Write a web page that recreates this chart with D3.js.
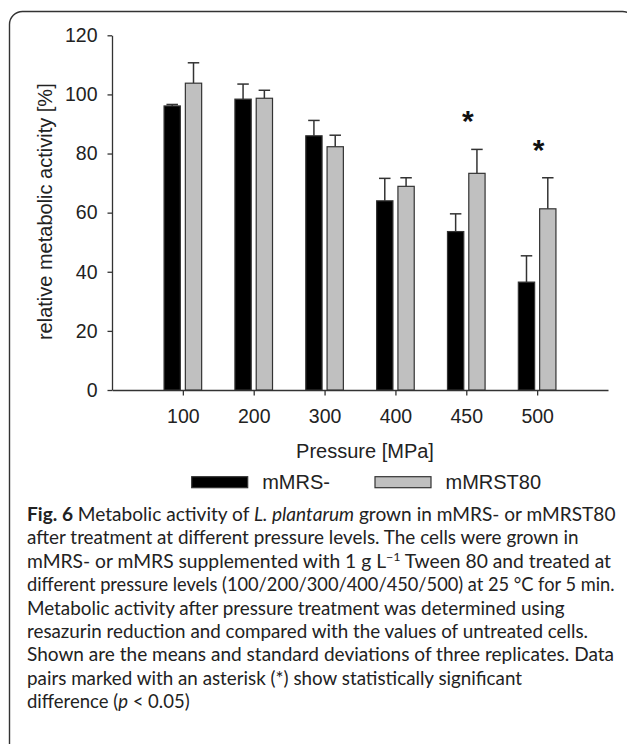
<!DOCTYPE html>
<html>
<head>
<meta charset="utf-8">
<script src="https://cdn.jsdelivr.net/npm/d3@7"></script>
<style>
  html, body { margin: 0; padding: 0; background: #fff; }
  svg { display: block; }
</style>
</head>
<body>
<script>
// ---------------- data ----------------
const categories = ["100", "200", "300", "400", "450", "500"];
const mMRSMean   = [96.1, 98.4, 86.0, 64.0, 53.6, 36.5];
const mMRSSD     = [0.5, 5.1, 5.2, 7.6, 6.0, 8.9];
const mMRST80Mean = [103.8, 98.7, 82.3, 68.9, 73.3, 61.3];
const mMRST80SD   = [6.9, 2.7, 3.9, 2.9, 8.1, 10.5];
const significant = [false, false, false, false, true, true];
const yTicks = [0, 20, 40, 60, 80, 100, 120];
const seriesNames = ["mMRS-", "mMRST80"];
const xTitle = "Pressure [MPa]";
const yTitle = "relative metabolic activity [%]";
const captionLines = [
  "**Fig. 6** Metabolic activity of _L. plantarum_ grown in mMRS- or mMRST80",
  "after treatment at different pressure levels. The cells were grown in",
  "mMRS- or mMRS supplemented with 1 g L^{−1} Tween 80 and treated at",
  "different pressure levels (100/200/300/400/450/500) at 25 °C for 5 min.",
  "Metabolic activity after pressure treatment was determined using",
  "resazurin reduction and compared with the values of untreated cells.",
  "Shown are the means and standard deviations of three replicates. Data",
  "pairs marked with an asterisk (*) show statistically significant",
  "difference (_p_ < 0.05)"
];
// right edge of each caption line (layout; null = natural width)
const captionRight = [615.5, 578.5, 611, 614.5, 564.5, 588, 614, 522, null];

// ---------------- layout ----------------
const W = 627, H = 744;
const svg = d3.select("body").append("svg").attr("width", W).attr("height", H);
const ink = "#222";
const lineCol = "#333";

// frame
svg.append("rect")
  .attr("x", 9.5).attr("y", 11.5)
  .attr("width", 626).attr("height", 760)
  .attr("rx", 13).attr("ry", 13)
  .attr("fill", "none").attr("stroke", lineCol).attr("stroke-width", 1.4);

const x = d3.scaleLinear().domain([-1, 6]).range([112, 608]);
const y = d3.scaleLinear().domain([0, 120]).range([390, 35.3]);

const font = "'Liberation Sans', Arial, sans-serif";

// y axis
const gy = svg.append("g").attr("transform", "translate(112,0)")
  .call(d3.axisLeft(y).tickValues(yTicks).tickSize(4.5).tickPadding(10).tickSizeOuter(0));
gy.select(".domain").attr("stroke", lineCol).attr("stroke-width", 1.3);
gy.selectAll(".tick line").attr("stroke", lineCol).attr("stroke-width", 1.3);
gy.selectAll(".tick text").attr("font-family", font).attr("font-size", 19.5).attr("fill", ink);

// x axis
const idx = categories.map((d, i) => i);
const gx = svg.append("g").attr("transform", "translate(0,390)")
  .call(d3.axisBottom(x).tickValues(idx).tickFormat(i => categories[i])
        .tickSize(5.5).tickPadding(13.5).tickSizeOuter(0));
gx.select(".domain").attr("stroke", lineCol).attr("stroke-width", 1.3);
gx.selectAll(".tick line").attr("stroke", lineCol).attr("stroke-width", 1.3);
gx.selectAll(".tick text").attr("font-family", font).attr("font-size", 19.5).attr("fill", ink);

// bars
const barW = 16.3, gap = 2.5;
const series = [
  { mean: mMRSMean, sd: mMRSSD, fill: "#000000", off: -gap - barW },
  { mean: mMRST80Mean, sd: mMRST80SD, fill: "#c0c0c0", off: gap }
];
const capW = 11.5;
series.forEach(s => {
  const g = svg.append("g");
  g.selectAll("line.err").data(idx).join("line")
    .attr("x1", i => x(i) + s.off + barW / 2).attr("x2", i => x(i) + s.off + barW / 2)
    .attr("y1", i => y(s.mean[i])).attr("y2", i => y(s.mean[i] + s.sd[i]))
    .attr("stroke", lineCol).attr("stroke-width", 1.5);
  g.selectAll("line.cap").data(idx).join("line")
    .attr("x1", i => x(i) + s.off + barW / 2 - capW / 2)
    .attr("x2", i => x(i) + s.off + barW / 2 + capW / 2)
    .attr("y1", i => y(s.mean[i] + s.sd[i])).attr("y2", i => y(s.mean[i] + s.sd[i]))
    .attr("stroke", lineCol).attr("stroke-width", 1.5);
  g.selectAll("rect").data(idx).join("rect")
    .attr("x", i => x(i) + s.off)
    .attr("y", i => y(s.mean[i]))
    .attr("width", barW)
    .attr("height", i => y(0) - y(s.mean[i]))
    .attr("fill", s.fill).attr("stroke", lineCol).attr("stroke-width", 1.2);
});

// significance asterisks
svg.append("g").selectAll("text").data(idx.filter(i => significant[i])).join("text")
  .attr("x", i => x(i) + 1.5)
  .attr("y", i => y(Math.max(mMRSMean[i] + mMRSSD[i], mMRST80Mean[i] + mMRST80SD[i])) - 18)
  .attr("text-anchor", "middle")
  .attr("font-family", font).attr("font-weight", "bold").attr("font-size", 30)
  .attr("fill", "#111")
  .text("*");

// axis titles
svg.append("text")
  .attr("x", 365).attr("y", 458)
  .attr("text-anchor", "middle")
  .attr("font-family", font).attr("font-size", 20).attr("fill", ink)
  .text(xTitle);

svg.append("text")
  .attr("transform", "translate(51.5,211.7) rotate(-90)")
  .attr("text-anchor", "middle")
  .attr("font-family", font).attr("font-size", 20).attr("fill", ink)
  .text(yTitle);

// legend
const legX = [191.7, 375];
const lg = svg.append("g");
seriesNames.forEach((name, k) => {
  lg.append("rect")
    .attr("x", legX[k]).attr("y", 476.7)
    .attr("width", 56).attr("height", 11)
    .attr("fill", series[k].fill).attr("stroke", lineCol).attr("stroke-width", 1.2);
  lg.append("text")
    .attr("x", legX[k] + 70.5).attr("y", 489)
    .attr("font-family", font).attr("font-size", 20).attr("fill", ink)
    .text(name);
});

// caption
const capFont = "Lato, 'Open Sans', sans-serif";
const capX = 27;
captionLines.forEach((line, li) => {
  const t = svg.append("text")
    .attr("x", capX).attr("y", 520.7 + li * 23.45)
    .attr("font-family", capFont).attr("font-size", 18.5).attr("fill", ink);
  if (captionRight[li] != null) {
    t.attr("textLength", captionRight[li] - capX)
     .attr("lengthAdjust", "spacingAndGlyphs");
  }
  const re = /(\*\*[^*]+\*\*|_[^_]+_|\^\{[^}]+\})/g;
  const parts = line.split(re).filter(p => p.length);
  let resetDy = false;
  parts.forEach(p => {
    let ts;
    if (p.startsWith("**")) {
      ts = t.append("tspan").attr("font-weight", "bold").text(p.slice(2, -2));
    } else if (p.startsWith("_")) {
      ts = t.append("tspan").attr("font-style", "italic").text(p.slice(1, -1));
    } else if (p.startsWith("^{")) {
      t.append("tspan").attr("font-size", 12).attr("dy", -7).text(p.slice(2, -1));
      resetDy = true;
      return;
    } else {
      ts = t.append("tspan").text(p);
    }
    if (resetDy) { ts.attr("dy", 7); resetDy = false; }
  });
});
</script>
</body>
</html>
